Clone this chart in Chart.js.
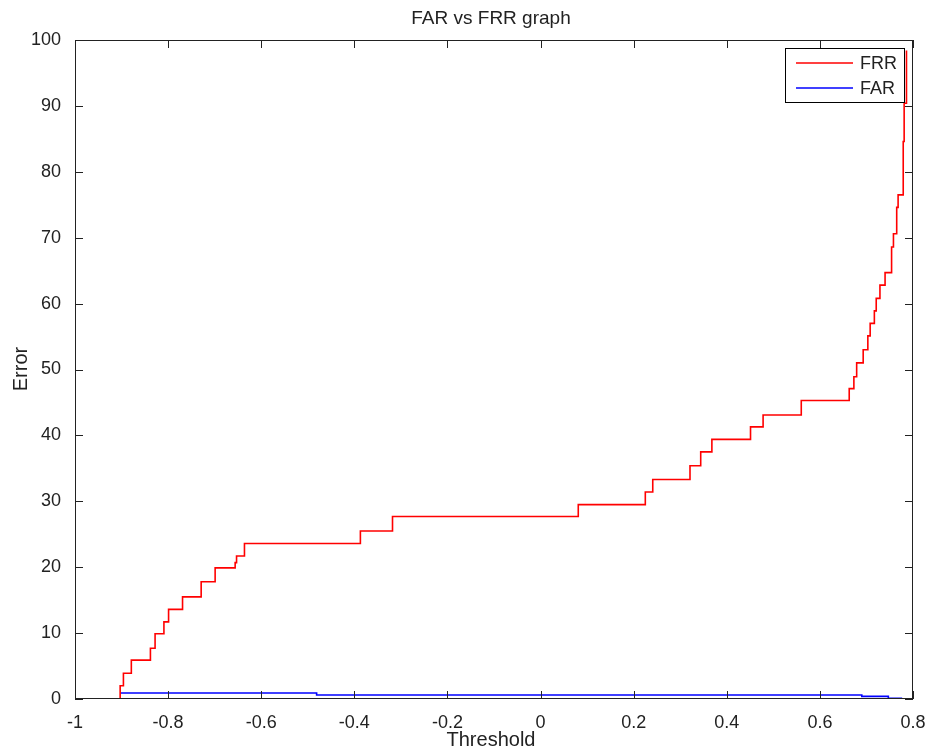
<!DOCTYPE html>
<html>
<head>
<meta charset="utf-8">
<script src="https://cdn.jsdelivr.net/npm/chart.js@4"></script>
<style>
  html, body { margin: 0; padding: 0; background: #fff; }
  #wrap { width: 936px; height: 754px; }
</style>
</head>
<body>
<div id="wrap"><canvas id="chart" width="936" height="754"></canvas></div>
<script>
// chart data
const chartTitle = 'FAR vs FRR graph';
const xAxisTitle = 'Threshold';
const yAxisTitle = 'Error';

const xTicks = [-1, -0.8, -0.6, -0.4, -0.2, 0, 0.2, 0.4, 0.6, 0.8];
const yTicks = [0, 10, 20, 30, 40, 50, 60, 70, 80, 90, 100];

// FRR: threshold where each step happens, and the level after the step
const frrX = [-0.903, -0.903, -0.896, -0.879, -0.838, -0.828, -0.809, -0.799, -0.769, -0.729,
  -0.699, -0.656, -0.653, -0.636, -0.387, -0.318, 0.081, 0.225, 0.241, 0.321,
  0.344, 0.368, 0.451, 0.478, 0.560, 0.663, 0.673, 0.679, 0.693, 0.703,
  0.708, 0.717, 0.721, 0.729, 0.740, 0.754, 0.758, 0.765, 0.768, 0.779,
  0.781, 0.786];
const frrY = [0, 2.0, 3.9, 5.9, 7.7, 9.9, 11.7, 13.6, 15.5, 17.8,
  19.9, 20.7, 21.7, 23.6, 25.5, 27.7, 29.5, 31.4, 33.3, 35.4,
  37.5, 39.4, 41.3, 43.1, 45.3, 47.1, 48.9, 51.0, 53.0, 55.1,
  57.0, 58.9, 60.8, 62.8, 64.7, 68.6, 70.6, 74.6, 76.5, 84.6,
  90.4, 98.4];

// FAR
const farX = [-0.903, -0.481, 0.690, 0.747, 0.775, 0.786];
const farY = [0.9, 0.6, 0.4, 0.1, 0.0, 0.0];

const toPoints = (xs, ys) => xs.map((x, i) => ({ x, y: ys[i] }));

const FONT = '"Liberation Sans", Arial, sans-serif';

// box, inward tick marks, title, axis titles and legend in MATLAB style
const matlabFrame = {
  id: 'matlabFrame',
  afterDraw(chart) {
    const { ctx, chartArea: a, scales } = chart;
    const tl = 8;
    ctx.save();
    ctx.strokeStyle = '#222';
    ctx.lineWidth = 1;
    ctx.strokeRect(a.left + 0.5, a.top + 0.5, a.right - a.left - 1, a.bottom - a.top - 1);
    ctx.beginPath();
    scales.x.ticks.forEach(t => {
      const px = Math.round(scales.x.getPixelForValue(t.value)) + 0.5;
      ctx.moveTo(px, a.bottom); ctx.lineTo(px, a.bottom - tl);
      ctx.moveTo(px, a.top); ctx.lineTo(px, a.top + tl);
    });
    scales.y.ticks.forEach(t => {
      const py = Math.round(scales.y.getPixelForValue(t.value)) + 0.5;
      ctx.moveTo(a.left, py); ctx.lineTo(a.left + tl, py);
      ctx.moveTo(a.right, py); ctx.lineTo(a.right - tl, py);
    });
    ctx.stroke();

    ctx.fillStyle = '#222';
    ctx.textAlign = 'center';
    ctx.textBaseline = 'middle';
    ctx.font = '19px ' + FONT;
    ctx.fillText(chartTitle, 491, 19);
    ctx.font = '20px ' + FONT;
    ctx.fillText(xAxisTitle, 491, 740);
    ctx.save();
    ctx.translate(21, 369);
    ctx.rotate(-Math.PI / 2);
    ctx.fillText(yAxisTitle, 0, 0);
    ctx.restore();

    // legend box
    const lx = 785, ly = 48, lw = 119, lh = 54;
    ctx.fillStyle = '#fff';
    ctx.fillRect(lx, ly, lw, lh);
    ctx.strokeStyle = '#000';
    ctx.strokeRect(lx + 0.5, ly + 0.5, lw, lh);
    ctx.font = '18px ' + FONT;
    ctx.textAlign = 'left';
    chart.data.datasets.forEach((ds, i) => {
      const y = ly + 15 + i * 25;
      ctx.strokeStyle = ds.borderColor;
      ctx.lineWidth = 1.5;
      ctx.beginPath();
      ctx.moveTo(796, y); ctx.lineTo(853, y);
      ctx.stroke();
      ctx.fillStyle = '#222';
      ctx.fillText(ds.label, 860, y + 1);
    });
    ctx.restore();
  }
};

new Chart(document.getElementById('chart'), {
  type: 'line',
  data: {
    datasets: [
      {
        label: 'FRR',
        data: toPoints(frrX, frrY),
        borderColor: '#ff0000',
        borderWidth: 1.6,
        stepped: 'before',
        pointRadius: 0,
        fill: false,
      },
      {
        label: 'FAR',
        data: toPoints(farX, farY),
        borderColor: '#0000ff',
        borderWidth: 1.6,
        stepped: 'before',
        pointRadius: 0,
        fill: false,
      },
    ],
  },
  options: {
    responsive: false,
    animation: false,
    layout: { padding: { top: 40, right: 23, left: 0, bottom: 0 } },
    plugins: {
      legend: { display: false },
      title: { display: false },
      tooltip: { enabled: false },
    },
    scales: {
      x: {
        type: 'linear',
        min: -1,
        max: 0.8,
        afterBuildTicks: scale => { scale.ticks = xTicks.map(v => ({ value: v })); },
        afterFit: scale => { scale.height = 55; },
        ticks: {
          color: '#222',
          font: { family: FONT, size: 18 },
          padding: 5,
          maxRotation: 0,
          autoSkip: false,
          callback: v => String(Math.round(v * 10) / 10),
        },
        grid: { display: false },
        border: { display: false },
      },
      y: {
        type: 'linear',
        min: 0,
        max: 100,
        afterBuildTicks: scale => { scale.ticks = yTicks.map(v => ({ value: v })); },
        afterFit: scale => { scale.width = 75; },
        ticks: {
          color: '#222',
          font: { family: FONT, size: 18 },
          padding: 6,
          autoSkip: false,
        },
        grid: { display: false },
        border: { display: false },
      },
    },
  },
  plugins: [matlabFrame],
});
</script>
</body>
</html>
